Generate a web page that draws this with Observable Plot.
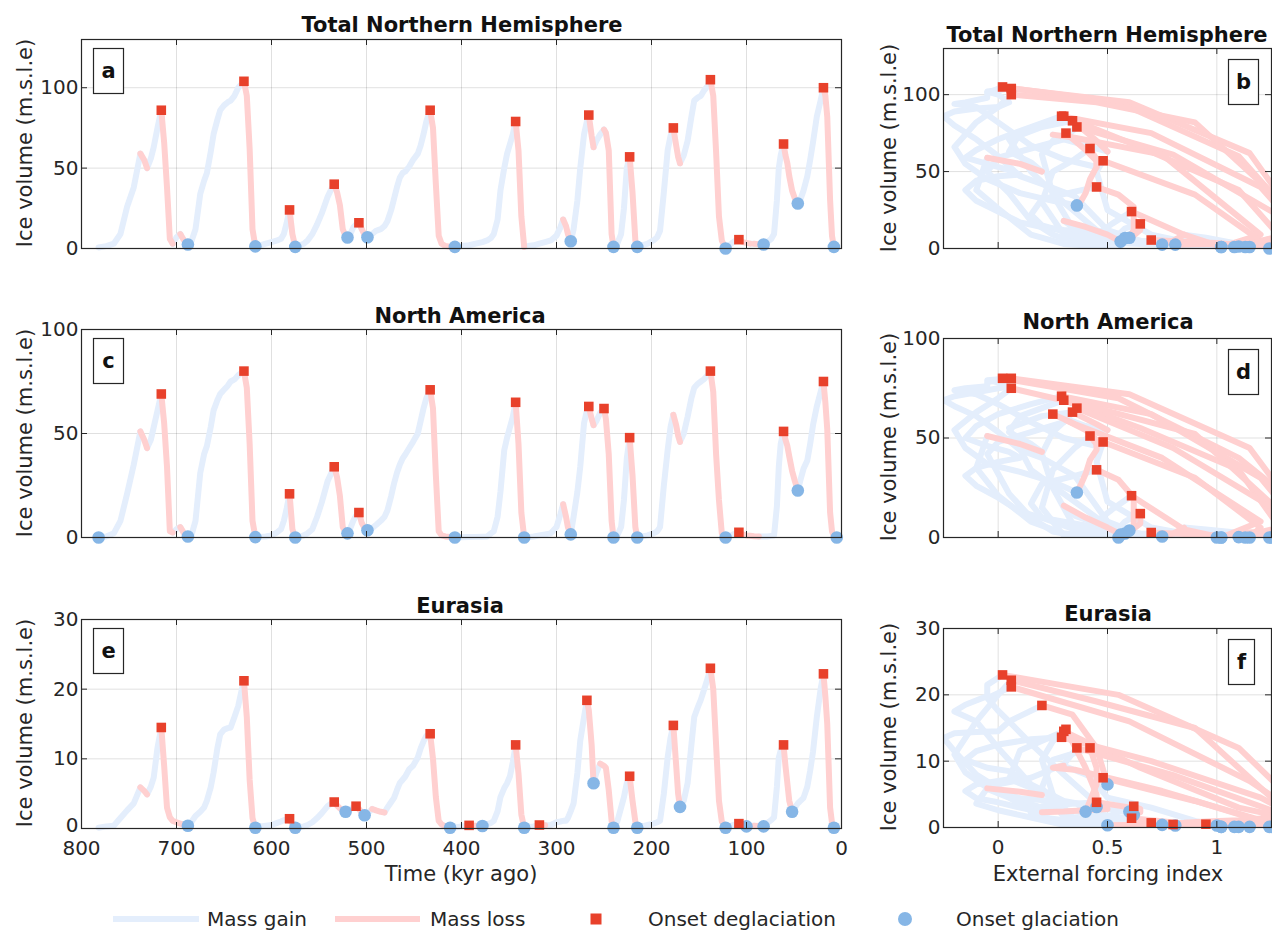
<!DOCTYPE html>
<html><head><meta charset="utf-8">
<script src="https://cdn.jsdelivr.net/npm/d3@7"></script>
<script src="https://cdn.jsdelivr.net/npm/@observablehq/plot@0.6"></script>
<style>
body{margin:0;background:#fff;}
#root{position:relative;width:1272px;height:931px;overflow:hidden;background:#fff;font-family:"DejaVu Sans",sans-serif;}
.panel{position:absolute;}
</style></head><body><div id="root"></div>
<script>
// ---- data (kyr ago, oldest first) ----
const time = [782,774,766,759,752,745,738,734,731,727,724,720,716,713,710,707,704,700,696,692,688,
684,680,675,671,668,664,661,657,654,650,646,643,639,635,632,629,626,623,620,617,
612,606,600,594,590,587,584,581,578,575,
570,566,562,557,552,547,541,537,534,531,528,525,522,520,517,514,511,508,505,502,499,
494,490,485,481,478,474,471,468,465,462,459,455,451,446,443,440,437,433,430,427,424,421,417,412,407,
400,392,385,378,373,369,366,362,359,355,352,349,346,343,340,337,334,
330,324,318,312,306,300,296,293,290,288,285,282,278,275,271,268,266,
263,261,258,254,250,248,245,242,240,
236,232,229,226,223,220,217,215,
210,204,198,194,191,187,183,180,177,174,172,170,166,162,158,155,151,148,145,141,138,135,132,129,126,122,
118,114,111,108,104,100,96,92,87,82,78,74,71,68,66,64,61,59,57,55,52,49,46,43,40,36,33,30,26,22,19,17,15,12,10,8,5];

const forcing = [0.55,0.45,0.30,0.15,0.00,-0.10,-0.05,0.10,0.20,0.15,0.05,0.10,0.30,0.65,1.10,1.30,1.10,0.95,0.85,0.80,0.75,
0.65,0.50,0.35,0.20,0.10,0.00,-0.10,-0.20,-0.25,-0.20,-0.10,0.00,0.05,0.00,-0.05,0.06,0.60,1.15,1.40,1.10,
0.95,0.75,0.55,0.45,0.42,0.45,0.52,0.61,0.85,1.02,
0.90,0.75,0.55,0.35,0.20,0.15,0.20,0.35,0.45,0.55,0.62,0.62,0.60,0.58,0.55,0.58,0.62,0.65,0.65,0.62,0.60,
0.50,0.40,0.30,0.20,0.10,0.00,-0.10,-0.15,-0.10,0.00,0.10,0.05,-0.05,-0.15,-0.10,0.00,0.15,0.29,0.70,1.20,1.40,1.45,1.40,1.30,1.13,
0.95,0.80,0.65,0.50,0.40,0.30,0.25,0.15,0.05,-0.05,0.00,0.15,0.30,0.36,0.80,1.30,1.25,
1.20,1.10,0.95,0.80,0.65,0.50,0.35,0.30,0.40,0.50,0.56,0.45,0.30,0.15,0.05,0.20,0.34,
0.45,0.50,0.40,0.30,0.25,0.35,0.75,1.20,1.02,
0.90,0.70,0.50,0.45,0.48,0.90,1.20,1.15,
1.00,0.80,0.60,0.45,0.35,0.25,0.20,0.25,0.31,0.40,0.45,0.45,0.30,0.15,0.00,-0.10,-0.20,-0.15,-0.05,-0.05,0.02,0.55,1.10,1.35,1.40,1.24,
1.10,0.95,0.80,0.70,0.90,1.00,1.05,1.00,0.90,0.81,0.60,0.45,0.30,0.20,0.25,0.35,0.42,0.45,0.45,0.42,0.40,0.38,0.36,0.25,0.10,-0.05,-0.15,-0.20,-0.10,0.00,0.06,0.45,0.90,1.30,1.30,1.08,1.00];

const iceNH = [0.6,1.5,3,9,26,38,59,55,50,56,63,75,86,66,38,6,3,7,9,5,2.5,
5,12,34,42,47,60,71,80,86,89,91,92,95,100,102,104,95,62,12,1.3,
2,3,4,5,6,9,16,24,9,1,
2,3,5,9,15,22,32,37,40,35,27,12,7.5,6.8,9,13,15,16,12,8.5,7,
9,11,12,14,17,24,31,38,44,47,48,51,55,59,64,71,79,86,75,40,8,3,1.5,1.1,1.0,
1.5,2,3,4,5,6.5,9,18,36,50,59,65,71,79,61,20,1,
1.5,2,3,4,5,8,13,18,14,9,4.5,12,30,50,71,79,83,
70,63,67,71,74,72,61,9,1,
3,9,25,50,57,35,5,1,
2,3,5,7,11,35,61,70,75,64,57,53,58,67,82,92,94,95,98,101,105,95,60,20,5,0,
2,4,5,5.5,4,3.5,3,3,2.7,2.5,4,6,9,30,50,58,65,58,53,45,36,31,28,31,36,45,55,66,82,92,100,95,82,30,8,1,1.2];

const iceNA = [0,0.5,2,8,21,35,51,47,43,47,53,61,69,55,34,3,2.4,4,5,2,0.5,
1.5,8,31,40,44,53,61,66,69,71,73,75,76,78,79,80,72,45,8,0.2,
0.3,0.5,1,2.5,4,8,14,21,4,0,
0.3,1,2,4,10,17,27,31,34,29,20,5,2.5,2.0,4.5,8,10.5,12,7,4.5,3.5,
4.5,6,8,10,13,20,26,31,35,38,40,43,46,50,56,62,67,71,62,30,3,1,0.5,0.2,0,
0.1,0.2,0.3,0.4,0.5,2,3,10,22,42,48,53,58,65,45,12,0,
0.1,0.5,1,1.5,2,5,11,16,10,5,1.5,10,22,34,55,61,63,
57,54,56,60,62,57,40,8,0,
1,5,18,38,48,30,5,0,
0.5,1,2,3,5,25,42,53,59,54,49,46,50,58,67,72,74,75,76,78,80,70,40,18,2,0,
0.5,1.5,2,2.5,1.5,1,0.8,0.6,0.5,0.5,0.5,0.8,1,15,34,45,51,47,44,39,32,27,22.6,28,33,37,45,54,63,70,75,65,52,12,3,0.5,0];

const iceEU = [0.1,0.3,0.4,1.5,2.6,3.6,5.9,5.4,4.9,6.0,7.3,11.6,14.5,9.0,3.0,1.6,1.1,0.9,0.7,0.5,0.4,
1.0,1.8,2.4,3.0,4.0,5.9,8.0,11.5,13.5,14.2,14.4,14.5,16.0,17.6,19.5,21.2,16,7,1.5,0.1,
0.3,0.4,0.5,0.8,1.0,1.2,1.3,1.4,0.6,0.1,
0.2,0.3,0.5,0.9,1.5,2.2,3.2,3.6,3.8,3.3,2.9,2.6,2.4,2.5,2.8,3.0,3.2,2.8,2.3,1.9,2.2,
2.8,2.6,2.4,2.3,3.0,3.8,4.4,5.5,6.5,7.0,7.5,8.5,9.0,10.2,11.5,12.5,13.3,13.6,10,4.5,1.1,0.6,0.3,0.1,0.15,
0.3,0.45,0.4,0.35,0.6,0.8,1.1,2.5,4.5,5.8,6.5,7.5,9.5,12,7.9,2,0.1,
0.2,0.3,0.5,0.45,0.5,0.9,1.0,1.1,1.1,1.5,2.5,3.6,8,12.6,16,18.4,17,
12,6.5,8,9.3,9.0,8.7,5.5,1.1,0.1,
1,3,4.5,6.5,7.5,4,1,0.1,
0.3,0.5,0.7,0.9,1.1,5,10.2,13,14.8,9,5,3.1,4,6.5,12,16,17.5,18.5,19.8,21.5,23,20,12,4,1,0.1,
0.3,0.5,0.6,0.7,0.5,0.3,0.4,0.4,0.35,0.3,0.8,1.2,1.6,6,10.2,11.2,12,9,6.5,4,2.4,3,3.6,4,4.4,6,8.3,11,16,20,22.2,19,15,3,0.8,0.1,0.15];

// onset times (kyr ago)
const deglacNH = [716,629,581,534,508,433,343,266,223,177,138,108,61,19];
const glacNH   = [688,617,575,520,499,407,285,240,215,122,82,46,8];
const deglacNA = [716,629,581,534,508,433,343,266,250,223,138,108,61,19];
const glacNA   = [782,688,617,575,520,499,407,334,285,240,215,122,46,5];
const deglacEU = [716,629,581,534,511,433,392,343,318,268,223,177,138,108,61,19];
const glacEU   = [688,617,575,522,502,412,378,334,261,240,215,170,122,100,82,52,8];

const timeTicks = [800,700,600,500,400,300,200,100,0];
const forcingTicks = [0,0.5,1];
const ticksNH = [0,50,100], ticksNA = [0,50,100], ticksEU = [0,10,20,30];

const GAIN = "#e4eefc", LOSS = "#ffd0d0", SQ = "#e8412b", CI = "#86b6e6", INK = "#262626";

function rowsOf(ice, xs) {
  const rows = []; let id = 0, state = null;
  for (let i = 0; i < ice.length - 1; i++) {
    const s = ice[i+1] >= ice[i] ? "gain" : "loss";
    if (s !== state) { id++; state = s; rows.push({x: xs[i], y: ice[i], z: id, s}); }
    rows.push({x: xs[i+1], y: ice[i+1], z: id, s});
  }
  return rows;
}
function markersOf(times, ice, xs) {
  return times.map(t => { const i = time.indexOf(t); return {x: xs[i], y: ice[i]}; });
}

const root = document.getElementById("root");
function panel(cfg) {
  const {left, top, width, height, mt, mb, ml, mr, xDomain, yDomain, xTicks, yTicks, xLabels, ice, xs, deg, gla, clip, liftZero} = cfg;
  const innerH = height - mt - mb, innerW = width - ml - mr;
  const rows = rowsOf(ice, xs);
  const fmt = d => String(d);
  const marks = [
    Plot.ruleX(xTicks, {stroke: "#000", strokeOpacity: 0.12}),
    Plot.ruleY(yTicks, {stroke: "#000", strokeOpacity: 0.12}),
    Plot.line(rows.filter(d => d.s === "gain"), {x: "x", y: "y", z: "z", stroke: GAIN, strokeWidth: 6, strokeLinecap: "round", strokeLinejoin: "round", clip}),
    Plot.line(rows.filter(d => d.s === "loss"), {x: "x", y: "y", z: "z", stroke: LOSS, strokeWidth: 6, strokeLinecap: "round", strokeLinejoin: "round", clip}),
    Plot.dot(markersOf(gla, ice, xs), {x: "x", y: "y", r: 6.3, fill: CI}),
    Plot.dot(markersOf(deg, ice, xs), {x: "x", y: "y", symbol: "square", r: 5.4, fill: SQ}),
    Plot.ruleX(xTicks, {stroke: INK, insetTop: innerH - 6}),
    Plot.ruleX(xTicks, {stroke: INK, insetBottom: innerH - 6}),
    Plot.ruleY(yTicks, {stroke: INK, insetRight: innerW - 6}),
    Plot.ruleY(yTicks, {stroke: INK, insetLeft: innerW - 6}),
    Plot.frame({stroke: INK, strokeWidth: 1.2})
  ];
  if (liftZero) {
    marks.push(Plot.axisY(yTicks.filter(d => d !== 0), {tickSize: 0, tickPadding: 3, label: null, tickFormat: fmt}));
    marks.push(Plot.axisY([0], {tickSize: 0, tickPadding: 3, label: null, tickFormat: fmt, dy: -3}));
  } else {
    marks.push(Plot.axisY(yTicks, {tickSize: 0, tickPadding: 3, label: null, tickFormat: fmt}));
  }
  if (xLabels) marks.push(Plot.axisX(xTicks, {tickSize: 0, tickPadding: 12, label: null, tickFormat: fmt}));
  const svg = Plot.plot({
    width, height, marginTop: mt, marginBottom: mb, marginLeft: ml, marginRight: mr,
    x: {domain: xDomain, axis: null}, y: {domain: yDomain, axis: null},
    style: {fontFamily: "DejaVu Sans, sans-serif", fontSize: "20px", color: INK, background: "transparent", overflow: "visible"},
    marks
  });
  const div = document.createElement("div");
  div.className = "panel";
  div.style.left = left + "px"; div.style.top = top + "px"; div.style.width = width + "px"; div.style.height = height + "px";
  div.appendChild(svg);
  root.appendChild(div);
}

const L = {left: 0, width: 860, ml: 81, mr: 19, xDomain: [800, 0], xTicks: timeTicks, xs: time};
const R = {left: 860, width: 420, ml: 83, mr: 9, xDomain: [-0.25, 1.25], xTicks: forcingTicks, xs: forcing, clip: true};

panel({...L, top: 0, height: 260, mt: 39, mb: 12, yDomain: [0,130], yTicks: ticksNH, ice: iceNH, deg: deglacNH, gla: glacNH});
panel({...L, top: 290, height: 260, mt: 39, mb: 13, yDomain: [0,100], yTicks: ticksNA, ice: iceNA, deg: deglacNA, gla: glacNA});
panel({...L, top: 580, height: 290, mt: 39, mb: 42, yDomain: [0,30], yTicks: ticksEU, ice: iceEU, deg: deglacEU, gla: glacEU, xLabels: true, liftZero: true});
panel({...R, top: 0, height: 260, mt: 48, mb: 12, yDomain: [0,130], yTicks: ticksNH, ice: iceNH, deg: deglacNH, gla: glacNH});
panel({...R, top: 290, height: 260, mt: 48, mb: 13, yDomain: [0,100], yTicks: ticksNA, ice: iceNA, deg: deglacNA, gla: glacNA});
panel({...R, top: 580, height: 290, mt: 48, mb: 43, yDomain: [0,30], yTicks: ticksEU, ice: iceEU, deg: deglacEU, gla: glacEU, xLabels: true});

// ---- overlay text, panel letters, legend ----
const ov = d3.select(root).append("svg")
  .attr("width", 1272).attr("height", 931)
  .style("position", "absolute").style("left", 0).style("top", 0)
  .style("font-family", "DejaVu Sans, sans-serif").style("pointer-events", "none");

const titles = [
  ["Total Northern Hemisphere", 462, 32], ["Total Northern Hemisphere", 1107, 42],
  ["North America", 460, 323], ["North America", 1108, 329],
  ["Eurasia", 460, 613], ["Eurasia", 1108, 621]
];
titles.forEach(([t, x, y]) => ov.append("text").attr("x", x).attr("y", y).attr("text-anchor", "middle")
  .attr("font-size", 21).attr("font-weight", "bold").attr("fill", "#111").text(t));

[[32,143],[32,433],[32,723],[896,148],[896,437],[896,727]].forEach(([x, y]) =>
  ov.append("text").attr("transform", `translate(${x},${y}) rotate(-90)`).attr("text-anchor", "middle")
    .attr("font-size", 21).attr("fill", INK).text("Ice volume (m.s.l.e)"));

ov.append("text").attr("x", 461).attr("y", 881).attr("text-anchor", "middle").attr("font-size", 21).attr("fill", INK).text("Time (kyr ago)");
ov.append("text").attr("x", 1108).attr("y", 881).attr("text-anchor", "middle").attr("font-size", 21).attr("fill", INK).text("External forcing index");

const letters = [["a", 93, 48, 30], ["b", 1228, 59, 30], ["c", 93, 338, 30], ["d", 1228, 349, 30], ["e", 93, 628, 30], ["f", 1228, 639, 26]];
letters.forEach(([l, x, y, w]) => {
  ov.append("rect").attr("x", x + 0.5).attr("y", y + 0.5).attr("width", w).attr("height", 45).attr("fill", "#fff").attr("stroke", INK).attr("stroke-width", 1.2);
  ov.append("text").attr("x", x + 0.5 + w / 2).attr("y", y + 30).attr("text-anchor", "middle").attr("font-size", 21).attr("font-weight", "bold").attr("fill", "#111").text(l);
});

const ly = 919, tb = 926;
ov.append("line").attr("x1", 113).attr("x2", 199).attr("y1", ly).attr("y2", ly).attr("stroke", GAIN).attr("stroke-width", 6);
ov.append("text").attr("x", 207).attr("y", tb).attr("font-size", 20).attr("fill", INK).text("Mass gain");
ov.append("line").attr("x1", 335).attr("x2", 420).attr("y1", ly).attr("y2", ly).attr("stroke", LOSS).attr("stroke-width", 6);
ov.append("text").attr("x", 430).attr("y", tb).attr("font-size", 20).attr("fill", INK).text("Mass loss");
ov.append("rect").attr("x", 596 - 5.5).attr("y", ly - 5.5).attr("width", 11).attr("height", 11).attr("fill", SQ);
ov.append("text").attr("x", 648).attr("y", tb).attr("font-size", 20).attr("fill", INK).text("Onset deglaciation");
ov.append("circle").attr("cx", 905).attr("cy", ly).attr("r", 7).attr("fill", CI);
ov.append("text").attr("x", 956).attr("y", tb).attr("font-size", 20).attr("fill", INK).text("Onset glaciation");
</script>
</body></html>
